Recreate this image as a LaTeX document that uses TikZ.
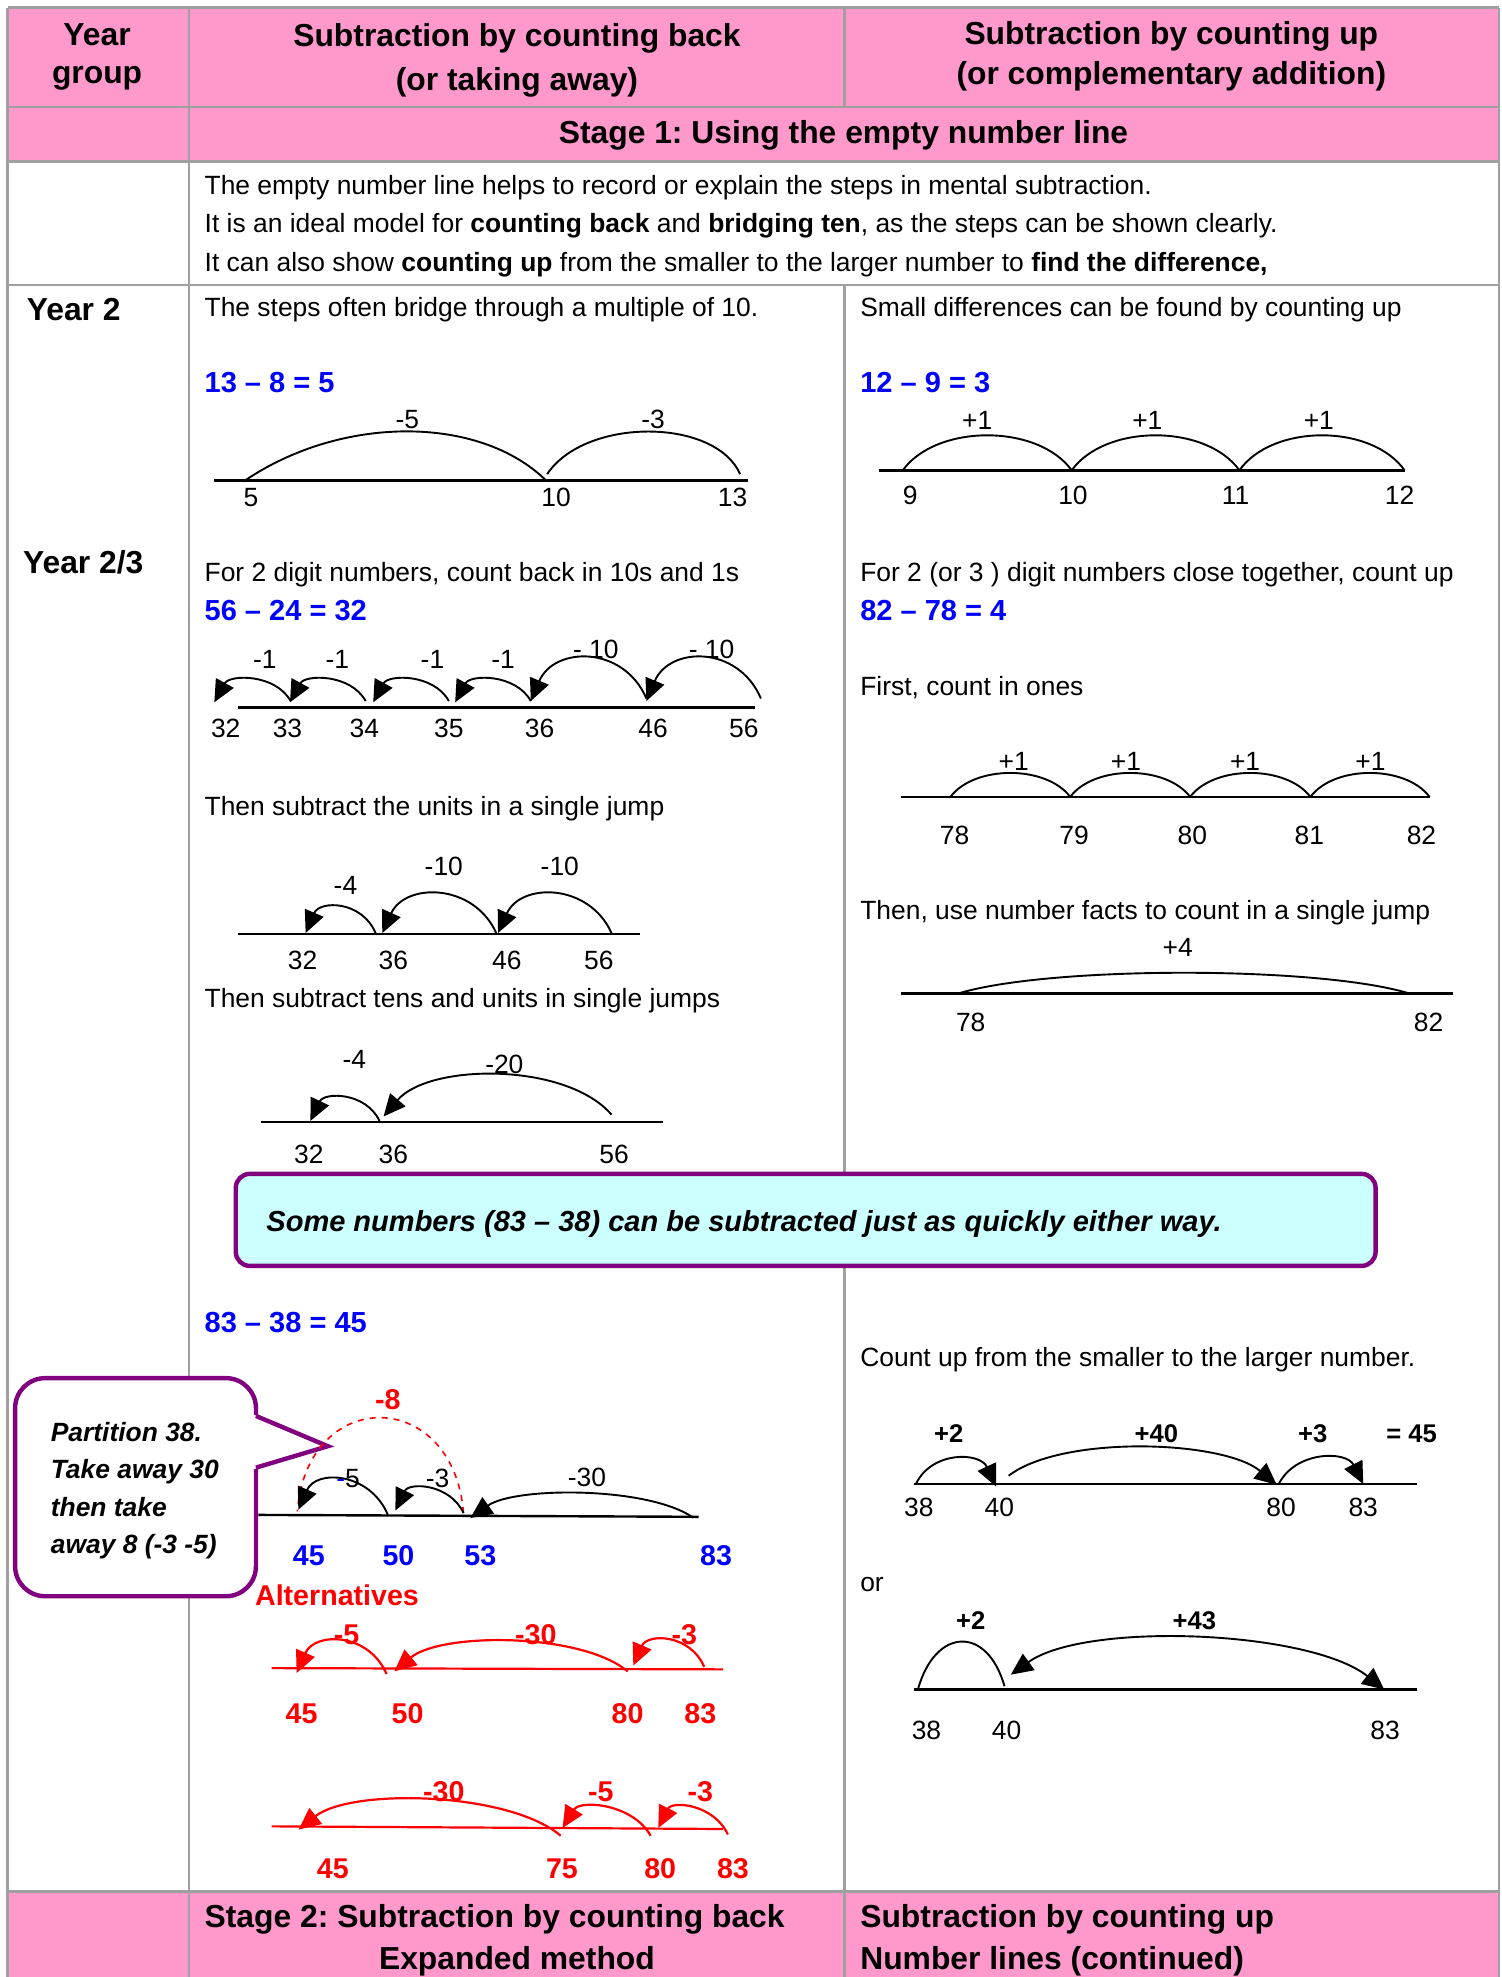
\documentclass[tikz,border=0pt]{standalone}
\usepackage{fontspec}
\setmainfont{Liberation Sans}
\usetikzlibrary{arrows.meta,calc}
\frenchspacing
\definecolor{pinkrow}{HTML}{FF99CC}
\definecolor{cyanbox}{HTML}{CCFFFF}
\definecolor{purp}{HTML}{800080}
\definecolor{gridgray}{HTML}{A0A0A0}
\definecolor{eqblue}{HTML}{0000FF}
\definecolor{alred}{HTML}{FF0000}
\newcommand\jumparc[4][]{\draw[#1] (#2) .. controls ($(#2)!0.2!(#3)+(0,-#4)$) and ($(#2)!0.8!(#3)+(0,-#4)$) .. (#3);}
\tikzset{
  txt/.style={anchor=base west, inner sep=0pt, font=\fontsize{13.2}{16}\selectfont},
  hdr/.style={anchor=base, inner sep=0pt, font=\bfseries\fontsize{15.9}{19}\selectfont},
  hdrl/.style={hdr, anchor=base west},
  eq/.style={anchor=base west, inner sep=0pt, text=eqblue, font=\bfseries\fontsize{14.5}{17}\selectfont},
  num/.style={anchor=base, inner sep=0pt, font=\fontsize{13.2}{16}\selectfont},
  bnum/.style={anchor=base, inner sep=0pt, font=\bfseries\fontsize{12.8}{15}\selectfont},
  bluenum/.style={anchor=base, inner sep=0pt, text=eqblue, font=\bfseries\fontsize{14.3}{17}\selectfont},
  rednum/.style={anchor=base, inner sep=0pt, text=alred, font=\bfseries\fontsize{14.3}{17}\selectfont},
  bubtxt/.style={anchor=base west, inner sep=0pt, font=\bfseries\itshape\fontsize{13.2}{16}\selectfont},
  gridl/.style={gridgray, line width=1.3pt},
  nline/.style={line width=1.2pt},
  arcl/.style={line width=0.95pt},
  tipend/.style={-{Triangle[length=11pt,width=10pt]}},
  tipboth/.style={{Triangle[length=11pt,width=10pt]}-{Triangle[length=11pt,width=10pt]}},
  redl/.style={alred, line width=1.1pt},
  purpbox/.style={draw=purp, line width=2.2pt},
}
\begin{document}
\begin{tikzpicture}[x=0.63pt,y=-0.63pt]
\useasboundingbox (0,0) rectangle (1191,1568);
% ---------- table ----------
\fill[pinkrow] (6,6) rectangle (1189,128);
\fill[pinkrow] (6,1500) rectangle (1189,1568);
\draw[gridl] (6,6) -- (1189,6) (6,85) -- (1189,85) (6,128) -- (1189,128)
  (6,226) -- (1189,226) (6,1500) -- (1189,1500)
  (6,6) -- (6,1568) (1189,6) -- (1189,1568) (150,6) -- (150,1568)
  (670,6) -- (670,85) (670,226) -- (670,1568);
% ---------- headers ----------
\node[hdr] (hY) at (77,36) {Year};
\node[hdr] (hG) at (77,66) {group};
\node[hdr] (hB1) at (410,37) {Subtraction by counting back};
\node[hdr] (hB2) at (410,72) {(or taking away)};
\node[hdr] (hU1) at (929,35) {Subtraction by counting up};
\node[hdr] (hU2) at (929,67) {(or complementary addition)};
\node[hdr] (hS1) at (669,114) {Stage 1: Using the empty number line};
% ---------- intro ----------
\node[txt] (i1) at (162,154) {The empty number line helps to record or explain the steps in mental subtraction.};
\node[txt] (i2) at (162,184) {It is an ideal model for \textbf{counting back} and \textbf{bridging ten}, as the steps can be shown clearly.};
\node[txt] (i3) at (162,215) {It can also show \textbf{counting up} from the smaller to the larger number to \textbf{find the difference,}};
% ---------- year labels ----------
\node[hdrl] (y2) at (21,254) {Year 2};
\node[hdrl] (y23) at (18,455) {Year 2/3};
% ---------- Year 2 left ----------
\node[txt] (l1) at (162,251) {The steps often bridge through a multiple of 10.};
\node[eq] (e1) at (162,311) {13 – 8 = 5};
\coordinate (a0) at (170,381); \coordinate (a1) at (593,381);
\draw[nline] (a0) -- (a1);
\coordinate (p5) at (193,382); \coordinate (p10) at (433,381);
\coordinate (p10b) at (434,376); \coordinate (p13) at (587,376);
\draw[arcl] (p5) .. controls +(77,-53) and +(-53,-52) .. (p10);
\draw[arcl] (p10b) .. controls +(30,-45) and +(-20,-45) .. (p13);
\node[num] (m5) at (323,340) {-5};
\node[num] (m3) at (518,340) {-3};
\foreach \x/\t [count=\i] in {199/5,441/10,581/13} \node[num] (nA\i) at (\x,402) {\t};
% ---------- Year 2 right ----------
\node[txt] (r1) at (682,251) {Small differences can be found by counting up};
\node[eq] (e2) at (682,311) {12 – 9 = 3};
\coordinate (b0) at (697,373); \coordinate (b1) at (1114,373);
\draw[nline] (b0) -- (b1);
\coordinate (q9) at (716,373); \coordinate (q10) at (850,373);
\coordinate (q11) at (983,373); \coordinate (q12) at (1114,373);
\jumparc[arcl]{q9}{q10}{37}
\jumparc[arcl]{q10}{q11}{37}
\jumparc[arcl]{q11}{q12}{37}
\foreach \x [count=\i] in {775,910,1046} \node[num] (pB\i) at (\x,341) {+1};
\foreach \x/\t [count=\i] in {722/9,851/10,980/11,1110/12} \node[num] (nB\i) at (\x,400) {\t};
% ---------- Year 2/3 left ----------
\node[txt] (l2) at (162,461) {For 2 digit numbers, count back in 10s and 1s};
\node[eq] (e3) at (162,492) {56 – 24 = 32};
\coordinate (c0) at (189,561); \coordinate (c9) at (599,561);
\draw[nline] (c0) -- (c9);
\coordinate (c1s) at (230.5,556); \coordinate (c1e) at (170,557);
\coordinate (c2s) at (290,556);   \coordinate (c2e) at (230,557);
\coordinate (c3s) at (356,556);   \coordinate (c3e) at (296,557);
\coordinate (c4s) at (421,556);   \coordinate (c4e) at (361,557);
\coordinate (c5s) at (512.7,554); \coordinate (c5e) at (421,556);
\coordinate (c6s) at (603.5,554); \coordinate (c6e) at (512.7,556);
\jumparc[arcl,tipend]{c1s}{c1e}{22}
\jumparc[arcl,tipend]{c2s}{c2e}{22}
\jumparc[arcl,tipend]{c3s}{c3e}{22}
\jumparc[arcl,tipend]{c4s}{c4e}{22}
\jumparc[arcl,tipend]{c5s}{c5e}{43}
\jumparc[arcl,tipend]{c6s}{c6e}{43}
\foreach \x [count=\i] in {210,267.5,343,399} \node[num] (mC\i) at (\x,530) {-1};
\node[num] (mC5) at (472.6,522) {- 10};
\node[num] (mC6) at (564.4,522) {- 10};
\foreach \x/\t [count=\i] in {179/32,228/33,289/34,356/35,428/36,518/46,590/56} \node[num] (nC\i) at (\x,585) {\t};
\node[txt] (l3) at (162,647) {Then subtract the units in a single jump};
\coordinate (d0) at (189,741); \coordinate (d9) at (507.4,741);
\draw[nline] (d0) -- (d9);
\coordinate (d1s) at (297.9,740); \coordinate (d1e) at (242.4,740);
\coordinate (d2s) at (393.6,740); \coordinate (d2e) at (303.2,740);
\coordinate (d3s) at (485,740);   \coordinate (d3e) at (395,740);
\jumparc[arcl,tipend]{d1s}{d1e}{26}
\jumparc[arcl,tipend]{d2s}{d2e}{40}
\jumparc[arcl,tipend]{d3s}{d3e}{40}
\node[num] (mD1) at (274,709.6) {-4};
\node[num] (mD2) at (352,694) {-10};
\node[num] (mD3) at (444,694) {-10};
\foreach \x/\t [count=\i] in {240/32,312/36,402/46,475/56} \node[num] (nD\i) at (\x,769) {\t};
\node[txt] (l4) at (162,799) {Then subtract tens and units in single jumps};
\coordinate (f0) at (207,890); \coordinate (f9) at (525.7,890);
\draw[nline] (f0) -- (f9);
\coordinate (f1s) at (301,889);   \coordinate (f1e) at (246.2,889);
\coordinate (f2s) at (485,884);   \coordinate (f2e) at (304.2,885.5);
\jumparc[arcl,tipend]{f1s}{f1e}{23}
\jumparc[arcl,tipend]{f2s}{f2e}{42}
\node[num] (mF1) at (281,847.5) {-4};
\node[num] (mF2) at (400,851.5) {-20};
\foreach \x/\t [count=\i] in {245/32,312/36,487/56} \node[num] (nF\i) at (\x,923) {\t};
% ---------- Year 2/3 right ----------
\node[txt] (r2) at (682,461) {For 2 (or 3 ) digit numbers close together, count up};
\node[eq] (e5) at (682,492) {82 – 78 = 4};
\node[txt] (r3) at (682,552) {First, count in ones};
\coordinate (s0) at (714.6,632); \coordinate (s9) at (1134,632);
\draw[nline] (s0) -- (s9);
\coordinate (s78) at (753.8,632); \coordinate (s79) at (848.8,632);
\coordinate (s80) at (943.9,632); \coordinate (s81) at (1039.3,632);
\coordinate (s82) at (1133.8,632);
\jumparc[arcl]{s78}{s79}{25.3}
\jumparc[arcl]{s79}{s80}{25.3}
\jumparc[arcl]{s80}{s81}{25.3}
\jumparc[arcl]{s81}{s82}{25.3}
\foreach \x [count=\i] in {804,893,987.5,1087} \node[num] (pS\i) at (\x,611) {+1};
\foreach \x/\t [count=\i] in {757.1/78,851.9/79,945.6/80,1038.4/81,1127.4/82} \node[num] (nS\i) at (\x,670) {\t};
\node[txt] (r4) at (682,729) {Then, use number facts to count in a single jump};
\coordinate (t0) at (714.6,788); \coordinate (t9) at (1152.3,788);
\draw[nline] (t0) -- (t9);
\coordinate (t78) at (759.8,788); \coordinate (t82) at (1118,788);
\jumparc[arcl]{t78}{t82}{22}
\node[num] (pT) at (934,759) {+4};
\node[num] (nT1) at (769.9,818) {78};
\node[num] (nT2) at (1133,818) {82};
% ---------- callout box ----------
\draw[purpbox, fill=cyanbox, rounded corners=7pt] (187,931) rectangle (1091,1004);
\node[anchor=base west, inner sep=0pt, font=\bfseries\itshape\fontsize{14.5}{17}\selectfont] (ctext) at (211,977) {Some numbers (83 – 38) can be subtracted just as quickly either way.};
% ---------- 83 - 38 left ----------
\node[eq] (e4) at (162,1057) {83 – 38 = 45};
\draw[purpbox, fill=white, rounded corners=15pt] (12,1093) rectangle (203,1266);
\fill[white] (199,1121) -- (260,1147) -- (199,1166) -- cycle;
\draw[purp, line width=2.2pt, line join=miter] (203,1123) -- (260,1147) -- (203,1164);
\node[bubtxt] (bt1) at (40,1143) {Partition 38.};
\node[bubtxt] (bt2) at (40,1173) {Take away 30};
\node[bubtxt] (bt3) at (40,1203) {then take};
\node[bubtxt] (bt4) at (40,1232) {away 8 (-3 -5)};
\coordinate (g0) at (205,1201.5); \coordinate (g9) at (554,1203);
\draw[nline] (g0) -- (g9);
\coordinate (g1s) at (307.6,1201.4); \coordinate (g1e) at (236.6,1197.4);
\coordinate (g2s) at (367.6,1200);   \coordinate (g2e) at (313.6,1198);
\coordinate (g3s) at (550,1203.8);   \coordinate (g3e) at (373,1204);
\coordinate (g8e) at (235.8,1198.7);
\draw[alred, dashed, line width=0.8pt] (g2s) .. controls +(-8,-100) and +(8,-100) .. (g8e);
\jumparc[arcl,tipend]{g1s}{g1e}{33}
\jumparc[arcl,tipend]{g2s}{g2e}{23}
\jumparc[arcl,tipend]{g3s}{g3e}{25}
\node[rednum] (mG8) at (307.6,1118) {-8};
\node[num] (mG1) at (276,1180) {{\color{eqblue}-}5};
\node[num] (mG2) at (347,1180) {-3};
\node[num] (mG3) at (465.5,1179) {-30};
\foreach \x/\t [count=\i] in {245/45,316/50,381/53,568/83} \node[bluenum] (nG\i) at (\x,1242) {\t};
\node[rednum, anchor=base west] (alt) at (202,1273) {Alternatives};
% alternatives row 1
\coordinate (h0) at (215.5,1323); \coordinate (h9) at (573.6,1324);
\draw[redl] (h0) -- (h9);
\coordinate (h1s) at (306.6,1327.7); \coordinate (h1e) at (235.3,1326.9);
\coordinate (h2s) at (497.8,1325.6); \coordinate (h2e) at (312.7,1325.6);
\coordinate (h3s) at (558.5,1322);   \coordinate (h3e) at (502.3,1321);
\jumparc[redl,tipend]{h1s}{h1e}{33}
\jumparc[redl,tipend]{h2s}{h2e}{31}
\jumparc[redl,tipend]{h3s}{h3e}{26}
\node[rednum] (mH1) at (274.8,1304.5) {-5};
\node[rednum] (mH2) at (425,1304.5) {-30};
\node[rednum] (mH3) at (542.7,1304.5) {-3};
\foreach \x/\t [count=\i] in {239.2/45,323.3/50,497.8/80,555.5/83} \node[rednum] (nH\i) at (\x,1366.6) {\t};
% alternatives row 2
\coordinate (k0) at (215.5,1448.5); \coordinate (k9) at (573.6,1450.6);
\draw[redl] (k0) -- (k9);
\coordinate (k1s) at (444.7,1455.9); \coordinate (k1e) at (236.8,1451.1);
\coordinate (k2s) at (516,1455.9);   \coordinate (k2e) at (446.2,1449.8);
\coordinate (k3s) at (577.3,1455);   \coordinate (k3e) at (522.1,1449.8);
\jumparc[redl,tipend]{k1s}{k1e}{34}
\jumparc[redl,tipend]{k2s}{k2e}{24}
\jumparc[redl,tipend]{k3s}{k3e}{23}
\node[rednum] (mK1) at (352,1428.7) {-30};
\node[rednum] (mK2) at (476.6,1428.7) {-5};
\node[rednum] (mK3) at (555.5,1428.7) {-3};
\foreach \x/\t [count=\i] in {264/45,445.7/75,523.6/80,581.3/83} \node[rednum] (nK\i) at (\x,1489.5) {\t};
% ---------- right lower ----------
\node[txt] (r5) at (682,1084) {Count up from the smaller to the larger number.};
\coordinate (u0) at (724.7,1177); \coordinate (u9) at (1124,1177);
\draw[nline] (u0) -- (u9);
\coordinate (u1s) at (726.4,1177);  \coordinate (u1e) at (790,1179);
\coordinate (u2s) at (800,1170.4);  \coordinate (u2e) at (1012.6,1177.6);
\coordinate (u3s) at (1014.2,1177); \coordinate (u3e) at (1081.2,1177);
\jumparc[arcl,tipend]{u1s}{u1e}{27}
\jumparc[arcl,tipend]{u2s}{u2e}{34}
\jumparc[arcl,tipend]{u3s}{u3e}{26.5}
\node[bnum] (pU1) at (752.5,1144) {+2};
\node[bnum] (pU2) at (917.2,1144) {+40};
\node[bnum] (pU3) at (1041.1,1144) {+3};
\node[bnum] (pU4) at (1119.6,1144) {= 45};
\foreach \x/\t [count=\i] in {728.7/38,792.6/40,1016/80,1081.2/83} \node[num] (nU\i) at (\x,1203) {\t};
\node[txt] (or) at (682,1262) {or};
\coordinate (v0) at (724.7,1340); \coordinate (v9) at (1124,1340);
\draw[nline] (v0) -- (v9);
\coordinate (v1s) at (728,1340);    \coordinate (v1e) at (796.7,1337.4);
\coordinate (v2s) at (801.7,1328.2); \coordinate (v2e) at (1097.9,1340);
\jumparc[arcl]{v1s}{v1e}{49}
\jumparc[arcl,tipboth]{v2s}{v2e}{44.7}
\node[bnum] (pV1) at (769.9,1292) {+2};
\node[bnum] (pV2) at (947.3,1292) {+43};
\foreach \x/\t [count=\i] in {734.8/38,798.4/40,1098.6/83} \node[num] (nV\i) at (\x,1380) {\t};
% ---------- bottom row ----------
\node[hdrl] (bt5) at (162,1529) {Stage 2: Subtraction by counting back};
\node[hdr] (bt6) at (410,1562) {Expanded method};
\node[hdrl] (bt7) at (682,1529) {Subtraction by counting up};
\node[hdrl] (bt8) at (682,1562) {Number lines (continued)};
\end{tikzpicture}
\end{document}
